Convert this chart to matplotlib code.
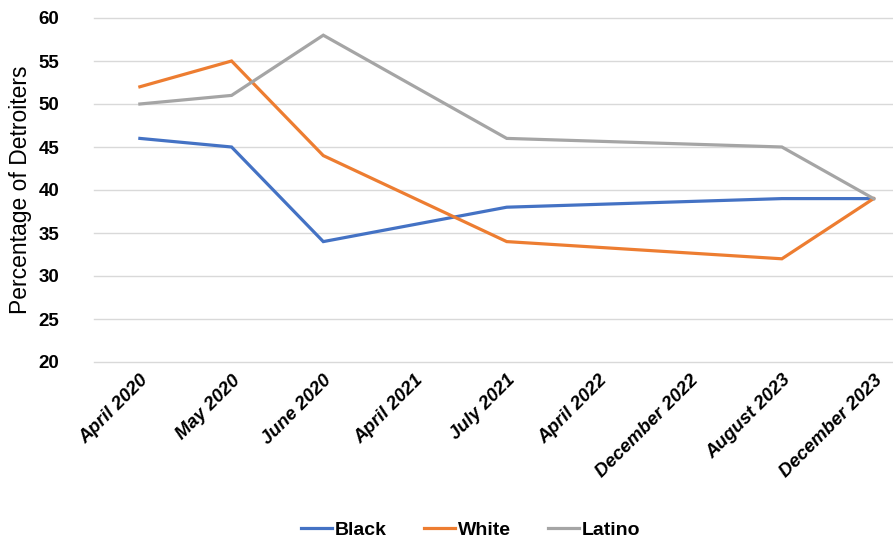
import numpy as np
import matplotlib
matplotlib.use("Agg")
import matplotlib.pyplot as plt
from matplotlib import font_manager

names = {f.name for f in font_manager.fontManager.ttflist}
for fam in ["Liberation Sans Narrow", "DejaVu Sans Condensed", "Liberation Sans"]:
    if fam in names:
        break
plt.rcParams['font.family'] = [fam, 'DejaVu Sans']

# survey waves; blanks are waves where the question was not asked
waves = ["April 2020", "May 2020", "June 2020", "April 2021", "July 2021",
         "April 2022", "December 2022", "August 2023", "December 2023"]
black = [46, 45, 34, np.nan, 38, np.nan, np.nan, 39, 39]
white = [52, 55, 44, np.nan, 34, np.nan, np.nan, 32, 39]
latino = [50, 51, 58, np.nan, 46, np.nan, np.nan, 45, 39]

colors = {"Black": "#4472C4", "White": "#ED7D31", "Latino": "#A5A5A5"}

fig = plt.figure(figsize=(8.93, 5.43), dpi=100)
ax = fig.add_axes([94/893, 1-362/543, 1-94/893, (362-18)/543])

x = np.arange(len(waves))
for name, vals in [("Black", black), ("White", white), ("Latino", latino)]:
    v = np.array(vals, dtype=float)
    ok = ~np.isnan(v)
    # connect across the missing waves
    ax.plot(x[ok], v[ok], color=colors[name], lw=2.3, label=name,
            solid_joinstyle="miter", zorder=3)

ax.set_ylim(20, 60)
ax.set_yticks(range(20, 61, 5))
ax.set_xlim(-0.5, (893-140)/91.7)
ax.set_xticks(x)
ax.set_xticklabels(waves, rotation=45, ha="right", rotation_mode="anchor",
                   fontsize=13.5, fontweight="bold", style="italic")
for lab in ax.get_yticklabels():
    lab.set_fontsize(13.5)
    lab.set_fontweight("bold")

ax.grid(axis="y", color="#D9D9D9", lw=1)
for gl in ax.get_ygridlines():
    gl.set_clip_on(False)
ax.set_axisbelow(True)
for s in ax.spines.values():
    s.set_visible(False)
ax.tick_params(axis="y", length=0, pad=25)
ax.tick_params(axis="x", length=0, pad=7)

ax.set_ylabel("Percentage of Detroiters", fontsize=16.5)
ax.yaxis.set_label_coords(-62/799, 0.5)

fig.legend(loc="lower center", bbox_to_anchor=(0.527, -0.025), ncol=3,
           frameon=False, handlelength=1.6, handletextpad=0.15,
           columnspacing=1.9, prop={"size": 14, "weight": "bold"})

fig.savefig("out.png", dpi=100)
